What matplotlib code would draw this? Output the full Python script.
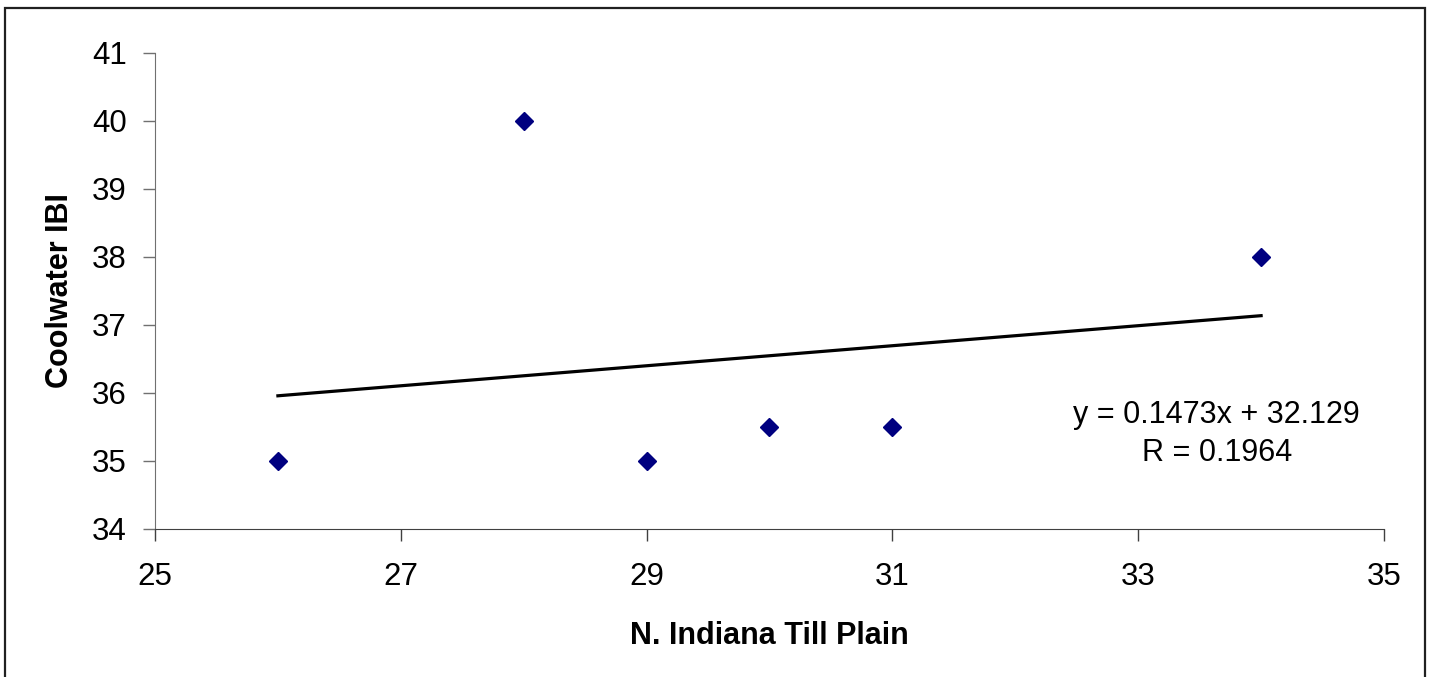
import matplotlib
matplotlib.use("Agg")
import matplotlib.pyplot as plt
from matplotlib.patches import Rectangle

plt.rcParams['font.family'] = ['Liberation Sans', 'DejaVu Sans']

# Observations
till_plain = [26, 28, 29, 30, 31, 34]
coolwater_ibi = [35, 40, 35, 35.5, 35.5, 38]

# Linear fit reported on the chart
slope = 0.1473
intercept = 32.129
r_value = 0.1964

x_ticks = [25, 27, 29, 31, 33, 35]
y_ticks = [34, 35, 36, 37, 38, 39, 40, 41]

fig = plt.figure(figsize=(14.31, 6.77), dpi=100)
ax = fig.add_axes([155 / 1431, 1 - 529 / 677, (1384 - 155) / 1431, (529 - 53) / 677])

# Frame around the whole chart area (bottom edge runs past the canvas)
fig.patches.append(Rectangle((5 / 1431, -0.02), (1425 - 5) / 1431, 1.02 - 8 / 677,
                             transform=fig.transFigure, fill=False,
                             edgecolor='#202020', linewidth=1.6, zorder=0))

xfit = [min(till_plain), max(till_plain)]
yfit = [slope * v + intercept for v in xfit]
ax.plot(xfit, yfit, color='black', linewidth=2.3, zorder=2)

ax.plot(till_plain, coolwater_ibi, linestyle='none', marker='D',
        markersize=9, color='#000080', markeredgecolor='#000080', zorder=3)

ax.set_xlim(25, 35)
ax.set_ylim(34, 41)
ax.set_xticks(x_ticks)
ax.set_yticks(y_ticks)
ax.tick_params(axis='both', direction='out', length=8.5, width=1.0,
               labelsize=22.5, colors='black', pad=12)
ax.tick_params(axis='x', pad=15)
ax.tick_params(axis='y', color='#707070')
ax.tick_params(axis='x', color='#404040')

for side in ('top', 'right'):
    ax.spines[side].set_visible(False)
ax.spines['left'].set_color('#707070')
ax.spines['bottom'].set_color('#404040')

ax.set_xlabel('N. Indiana Till Plain', fontsize=22, fontweight='bold', labelpad=21)
ax.set_ylabel('Coolwater IBI', fontsize=22, fontweight='bold', labelpad=12)

ax.text(0.864, 0.2, f'y = {slope}x + {intercept}\nR = {r_value}',
        transform=ax.transAxes, ha='center', va='center', fontsize=22,
        linespacing=1.35)

fig.savefig('out.png', dpi=100, facecolor='white')
